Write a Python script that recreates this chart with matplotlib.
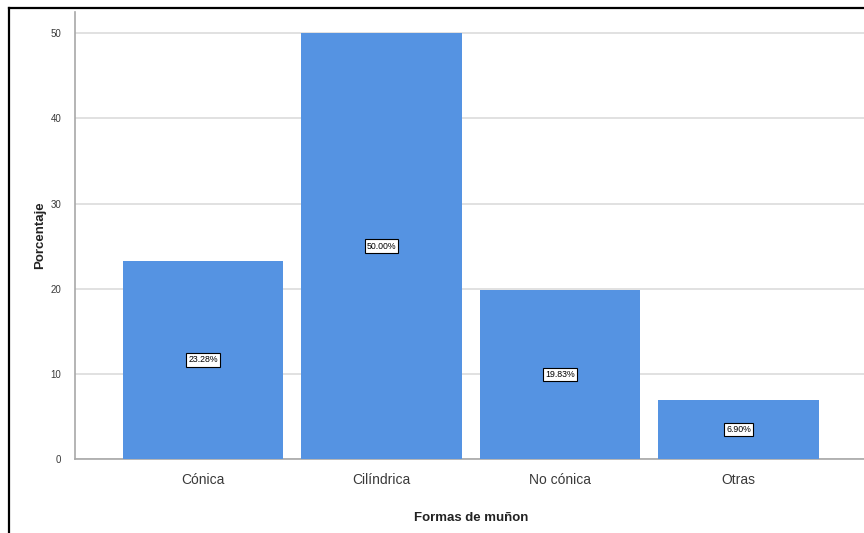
import matplotlib
matplotlib.use("Agg")
import matplotlib.pyplot as plt
from matplotlib.lines import Line2D

categories = ["Cónica", "Cilíndrica", "No cónica", "Otras"]
percentages = [23.28, 50.00, 19.83, 6.90]
y_ticks = [0, 10, 20, 30, 40, 50]

bar_color = "#5593E2"
grid_color = "#DCDCDC"
spine_color = "#A8A8A8"
text_color = "#3A3A3A"

plt.rcParams["font.family"] = ["Liberation Sans", "DejaVu Sans"]

fig = plt.figure(figsize=(8.64, 5.33), dpi=100)
ax = fig.add_axes([75 / 864, 1 - 459 / 533, 1 - 75 / 864 + 0.003, (459 - 12) / 533])

x = list(range(len(categories)))
ax.bar(x, percentages, width=0.9, color=bar_color, zorder=3)

for xi, v in zip(x, percentages):
    ax.text(xi, v / 2, f"{v:.2f}%", ha="center", va="center", fontsize=6.3,
            color="black", zorder=4,
            bbox=dict(boxstyle="square,pad=0.25", facecolor="white",
                      edgecolor="black", linewidth=0.8))

ax.set_xlim(-0.717, len(categories) - 1 + 0.717)
ax.set_ylim(0, 52.5)
ax.set_yticks(y_ticks)
ax.set_yticklabels([str(t) for t in y_ticks], fontsize=7, color=text_color)
ax.set_xticks(x)
ax.set_xticklabels(categories, fontsize=10, color=text_color)
ax.tick_params(axis="y", length=0, pad=10)
ax.tick_params(axis="x", length=0, pad=10)

ax.yaxis.grid(True, color=grid_color, linewidth=1.2, zorder=0)
ax.set_axisbelow(True)
for side in ["top", "right"]:
    ax.spines[side].set_visible(False)
for side in ["left", "bottom"]:
    ax.spines[side].set_color(spine_color)
    ax.spines[side].set_linewidth(1.2)

ax.set_ylabel("Porcentaje", fontsize=9.5, fontweight="bold", color="#222222", labelpad=3)
ax.set_xlabel("Formas de muñon", fontsize=9.5, fontweight="bold", color="#222222", labelpad=18)

# outer frame along the left and top edges
fig.add_artist(Line2D([8.5 / 864, 8.5 / 864], [0, 1 - 8 / 533], transform=fig.transFigure,
                      color="black", linewidth=1.6))
fig.add_artist(Line2D([8.5 / 864, 1], [1 - 8 / 533, 1 - 8 / 533], transform=fig.transFigure,
                      color="black", linewidth=1.6))

fig.savefig("out.png", dpi=100, facecolor="white")
